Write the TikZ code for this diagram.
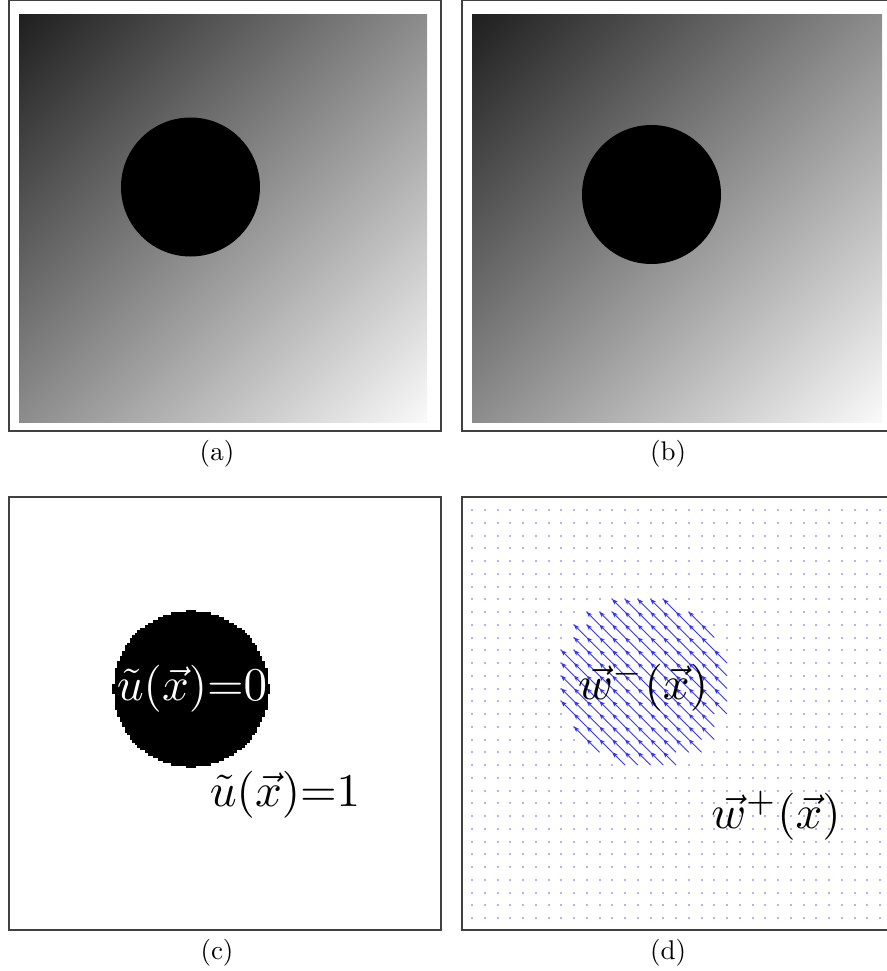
\documentclass[tikz,border=0pt]{standalone}
\usetikzlibrary{arrows.meta}
\pgfdeclarefunctionalshading{diaggray}{\pgfpoint{0bp}{0bp}}{\pgfpoint{100bp}{100bp}}{}{
 sub 50 add 0.0086 mul 0.12 add dup dup
}
\tikzset{
  framebox/.style={draw=black!75,line width=1.3pt},
  caplabel/.style={scale=2.7,inner sep=0pt},
  biglabel/.style={scale=4.7,inner sep=0pt},
  griddot/.style={fill=blue!30},
  fieldarrow/.style={draw=blue!80!white,line width=0.9pt,-{Stealth[length=6pt,width=4.5pt]}}
}
\begin{document}
\begin{tikzpicture}[x=1pt,y=-1pt]
\useasboundingbox (0,0) rectangle (886,971);
% panel (a)
\shade[shading=diaggray] (19,15) rectangle (427,422);
\fill[black] (190.5,187) circle (69.5);
\draw[framebox] (9,0.7) rectangle (441,431);
\node[caplabel] (capa) at (217,454) {(a)};
% panel (b)
\shade[shading=diaggray] (472,15) rectangle (882,422);
\fill[black] (651.5,194.5) circle (69.5);
\draw[framebox] (462,0.7) rectangle (892,431);
\node[caplabel] (capb) at (668,454) {(b)};
% panel (c)
\foreach \j in {-31,...,30}{
  \pgfmathsetmacro\yc{(\j+0.5)*2.55}
  \pgfmathsetmacro\hw{round(sqrt(max(6084-\yc*\yc,0))/2.55)*2.55}
  \fill[black] (191-\hw, 689+\j*2.55-0.2) rectangle (191+\hw, 689+\j*2.55+2.75);
}
\node[biglabel,text=white] (uzero) at (192,689) {$\tilde{u}(\vec{x}){=}0$};
\node[biglabel] (uone) at (285,795) {$\tilde{u}(\vec{x}){=}1$};
\draw[framebox] (9,497) rectangle (441,930);
\node[caplabel] (capc) at (217,953) {(c)};
% panel (d)
\foreach \i in {0,...,32}{
  \foreach \j in {0,...,32}{
    \pgfmathsetmacro\dd{(\i-14)*(\i-14)+(\j-14)*(\j-14)}
    \ifdim\dd pt<42.5pt
      \coordinate (t-\i-\j) at (472+12.75*\i,510+12.75*\j);
      \coordinate (h-\i-\j) at (472+12.75*\i-13,510+12.75*\j-13);
      \draw[fieldarrow] (t-\i-\j) -- (h-\i-\j);
    \else
      \fill[griddot] (472+12.75*\i-1,510+12.75*\j-1) rectangle ++(2,2);
    \fi
  }
}
\node[biglabel] (wminus) at (643,687) {$\vec{w}^{-}(\vec{x})$};
\node[biglabel] (wplus) at (776,816) {$\vec{w}^{+}(\vec{x})$};
\draw[framebox] (462,497) rectangle (892,930);
\node[caplabel] (capd) at (668,953) {(d)};
\end{tikzpicture}
\end{document}
